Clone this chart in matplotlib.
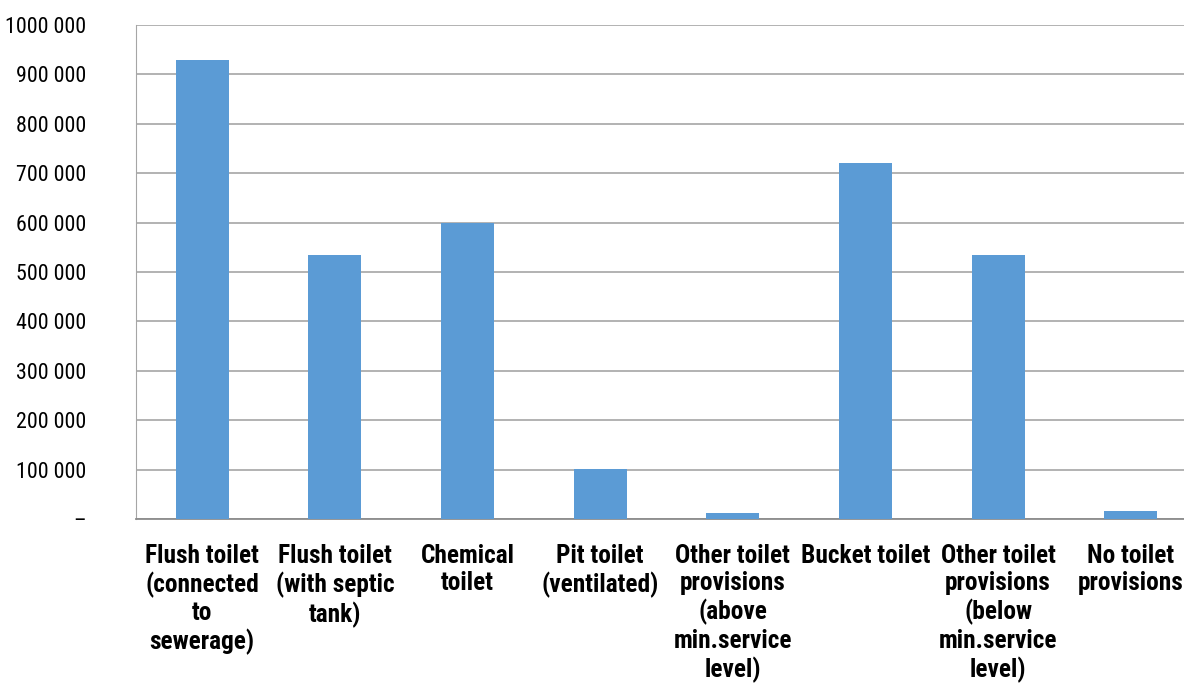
import matplotlib
matplotlib.use("Agg")
import matplotlib.pyplot as plt
from matplotlib import font_manager

categories = [
    "Flush toilet\n(connected\nto\nsewerage)",
    "Flush toilet\n(with septic\ntank)",
    "Chemical\ntoilet",
    "Pit toilet\n(ventilated)",
    "Other toilet\nprovisions\n(above\nmin.service\nlevel)",
    "Bucket toilet",
    "Other toilet\nprovisions\n(below\nmin.service\nlevel)",
    "No toilet\nprovisions",
]
households = [929000, 534000, 599000, 101000, 12000, 721000, 534000, 16000]
y_ticks = [0, 100000, 200000, 300000, 400000, 500000, 600000, 700000, 800000, 900000, 1000000]
y_tick_labels = ["–", "100 000", "200 000", "300 000", "400 000", "500 000",
                 "600 000", "700 000", "800 000", "900 000", "1000 000"]

# pick a condensed sans face if one is available
installed = {f.name for f in font_manager.fontManager.ttflist}
family = "Liberation Sans"
for cand in ["Liberation Sans Narrow", "Arial Narrow", "Roboto Condensed",
             "Archivo Narrow", "PT Sans Narrow", "Open Sans Condensed"]:
    if cand in installed:
        family = cand
        break

fig = plt.figure(figsize=(11.84, 6.89), dpi=100)
ax = fig.add_axes([136 / 1184, 170 / 689, 1061 / 1184, 494 / 689])

x = list(range(len(categories)))
ax.bar(x, households, width=0.4, color="#5b9bd5", zorder=3)

ax.set_xlim(-0.5, len(categories) - 0.5)
ax.set_ylim(0, 1000000)
ax.set_yticks(y_ticks)
ax.set_yticklabels(y_tick_labels, fontsize=15.8, family=family)
ax.set_xticks(x)
ax.set_xticklabels(categories, fontsize=18.3, fontweight="bold", family=family,
                   linespacing=1.18, va="top")

ax.grid(axis="y", color="#a6a6a6", linewidth=1.2, zorder=0)
ax.tick_params(axis="both", length=0)
ax.tick_params(axis="y", pad=36)
ax.tick_params(axis="x", pad=18)

for side in ["top", "right"]:
    ax.spines[side].set_visible(False)
ax.spines["left"].set_color("#a6a6a6")
ax.spines["bottom"].set_color("#8c8c8c")
ax.spines["bottom"].set_linewidth(1.3)

fig.savefig("out.png", dpi=100)
